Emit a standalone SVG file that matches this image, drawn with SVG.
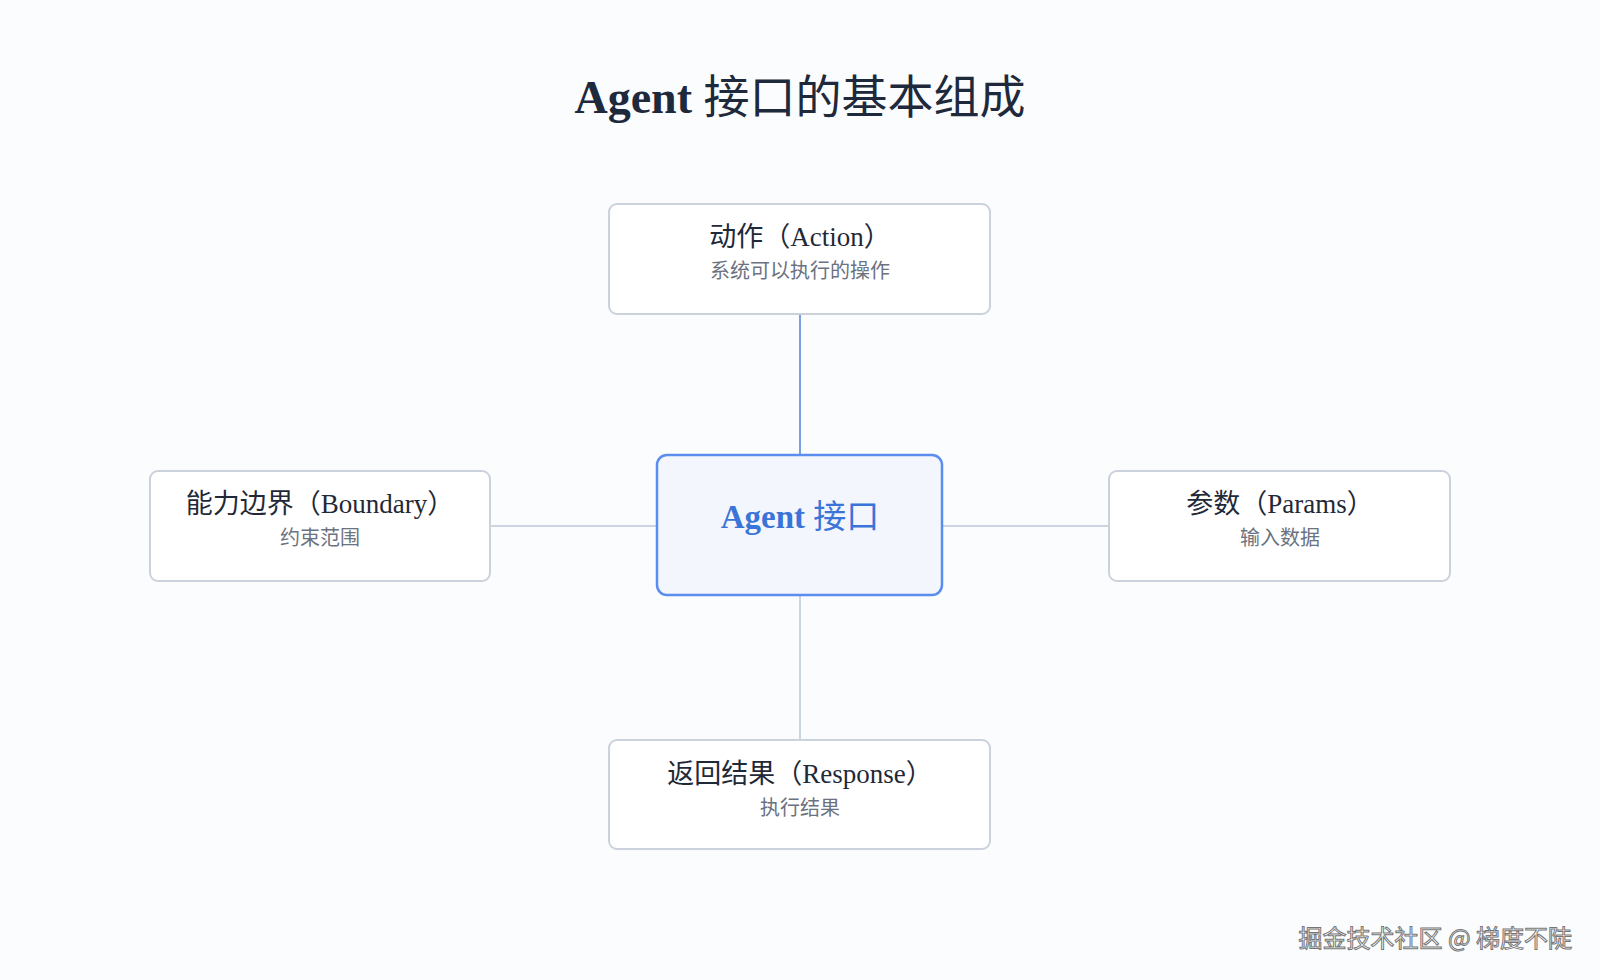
<svg xmlns="http://www.w3.org/2000/svg" width="1600" height="980" viewBox="0 0 1600 980">
<style>
.box{fill:#fff;stroke:#cbd2dc;stroke-width:2}
.t{font-family:"Liberation Serif","Noto Sans CJK SC",serif;font-size:27px;fill:#1f2937;text-anchor:middle}
.s{font-family:"Noto Sans CJK SC",sans-serif;font-size:20px;fill:#6b7280;text-anchor:middle}
.c{stroke:#cbd5e1;stroke-width:2;fill:none}
</style>
<rect width="1600" height="980" fill="#fafcfe"/>
<text x="800" y="113" font-family="Liberation Serif,'Noto Sans CJK SC',serif" font-size="46" fill="#1e293b" text-anchor="middle"><tspan font-weight="bold">Agent</tspan> 接口的基本组成</text>
<g id="connectors">
<line class="c" x1="800" y1="314" x2="800" y2="455" style="stroke:#7b9fe0"/>
<line class="c" x1="800" y1="595" x2="800" y2="740"/>
<line class="c" x1="490" y1="526" x2="657" y2="526"/>
<line class="c" x1="942" y1="526" x2="1109" y2="526"/>
</g>
<g id="center"><rect x="657" y="455" width="285" height="140" rx="10" fill="#f3f7fd" stroke="#5b8def" stroke-width="2.5"/>
<text x="800" y="520" dominant-baseline="middle" font-family="Liberation Serif,'Noto Sans CJK SC',serif" font-size="33" fill="#3b74d9" text-anchor="middle"><tspan font-weight="bold">Agent</tspan> 接口</text></g>
<g id="action"><rect class="box" x="609" y="204" width="381" height="110" rx="8"/>
<text class="t" x="800" y="246">动作（Action）</text><text class="s" x="800" y="278">系统可以执行的操作</text></g>
<g id="boundary"><rect class="box" x="150" y="471" width="340" height="110" rx="8"/>
<text class="t" x="320" y="513">能力边界（Boundary）</text><text class="s" x="320" y="545">约束范围</text></g>
<g id="params"><rect class="box" x="1109" y="471" width="341" height="110" rx="8"/>
<text class="t" x="1280" y="513">参数（Params）</text><text class="s" x="1280" y="545">输入数据</text></g>
<g id="response"><rect class="box" x="609" y="740" width="381" height="109" rx="8"/>
<text class="t" x="800" y="783">返回结果（Response）</text><text class="s" x="800" y="815">执行结果</text></g>
<text x="1572" y="947" font-family="Noto Sans CJK SC,sans-serif" font-size="24" fill="#ffffff" stroke="#555" stroke-width="1" text-anchor="end" opacity="0.8">掘金技术社区 @ 梯度不陡</text>
</svg>
